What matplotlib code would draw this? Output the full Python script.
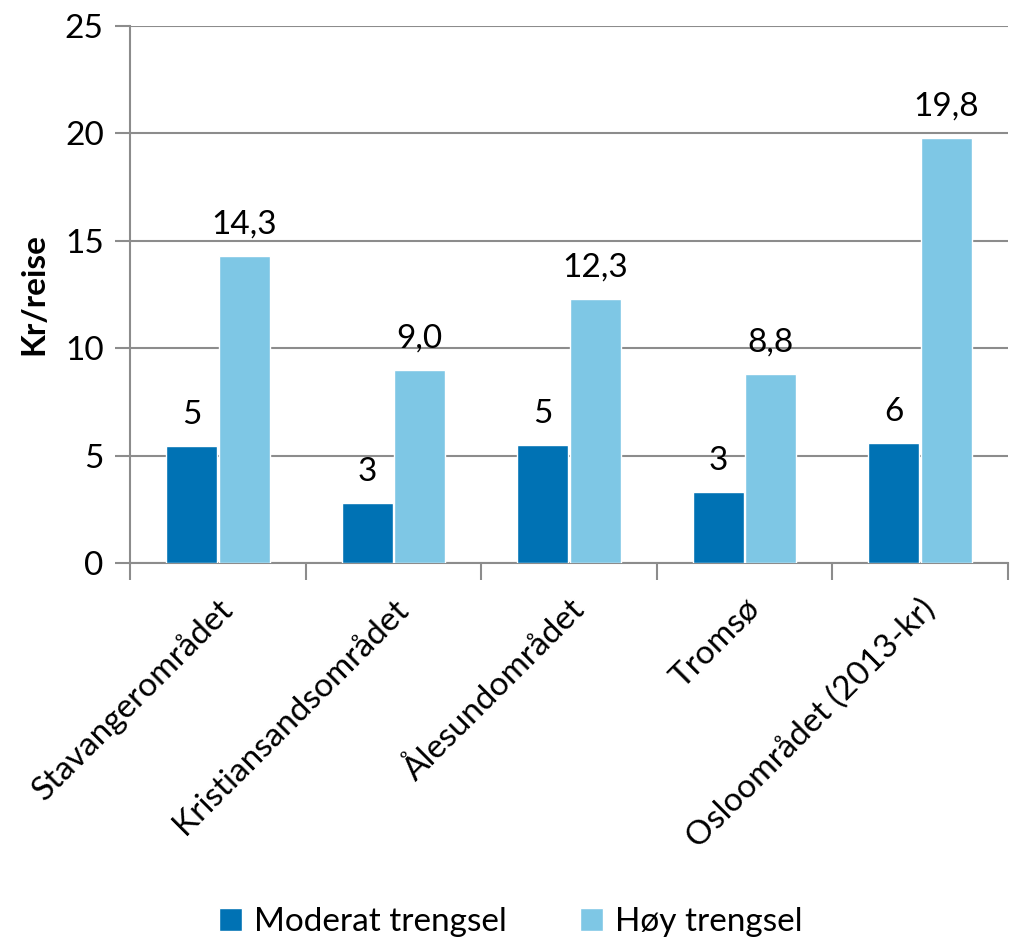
import matplotlib.pyplot as plt
import numpy as np

plt.rcParams['font.family'] = ['Lato', 'DejaVu Sans']

categories = ["Stavangerområdet", "Kristiansandsområdet", "Ålesundområdet",
              "Tromsø", "Osloområdet (2013-kr)"]
moderat = [5.43, 2.78, 5.47, 3.3, 5.6]
hoy = [14.3, 9.0, 12.3, 8.8, 19.8]
moderat_labels = ["5", "3", "5", "3", "6"]
hoy_labels = ["14,3", "9,0", "12,3", "8,8", "19,8"]

dark = '#0072B4'
light = '#7EC7E5'
grid = '#8C8C8C'
fs = 24

fig = plt.figure(figsize=(10.11, 9.43), dpi=100)
ax = fig.add_axes([0.1286, 0.403, 0.8684, 0.5694])

x = np.arange(len(categories))
w = 0.29
b1 = ax.bar(x - 0.15, moderat, w, color=dark, edgecolor='white', linewidth=1, label='Moderat trengsel', zorder=3)
b2 = ax.bar(x + 0.15, hoy, w, color=light, edgecolor='white', linewidth=1, label='Høy trengsel', zorder=3)

for xi, v, t in zip(x, moderat, moderat_labels):
    ax.text(xi - 0.15, v + 0.75, t, ha='center', va='bottom', fontsize=fs)
for xi, v, t in zip(x, hoy, hoy_labels):
    ax.text(xi + 0.15, v + 0.75, t, ha='center', va='bottom', fontsize=fs)

ax.set_xlim(-0.5, 4.5)
ax.set_ylim(0, 25)
ax.set_yticks([0, 5, 10, 15, 20, 25])
ax.tick_params(axis='y', labelsize=fs, length=11, width=1.5, color=grid, pad=8)
ax.yaxis.grid(True, color=grid, linewidth=1.5, zorder=0)
ax.set_axisbelow(True)

ax.set_xticks(x)
ax.set_xticklabels(categories, rotation=45, ha='right', rotation_mode='anchor', fontsize=fs)
ax.tick_params(axis='x', which='major', length=0, pad=22)
ax.set_xticks(np.arange(-0.5, 5, 1), minor=True)
ax.tick_params(axis='x', which='minor', length=12, width=1.5, color=grid)

for s in ['top', 'right']:
    ax.spines[s].set_visible(False)
for s in ['left', 'bottom']:
    ax.spines[s].set_color(grid)
    ax.spines[s].set_linewidth(1.5)

ax.set_ylabel('Kr/reise', fontsize=fs, fontweight='bold', labelpad=12)

fig.legend(handles=[b1, b2], loc='center', bbox_to_anchor=(0.505, 0.022), ncol=2,
           frameon=False, fontsize=fs, handlelength=0.7, handleheight=0.7,
           handletextpad=0.35, columnspacing=2.2)

fig.savefig('out.png', dpi=100)
